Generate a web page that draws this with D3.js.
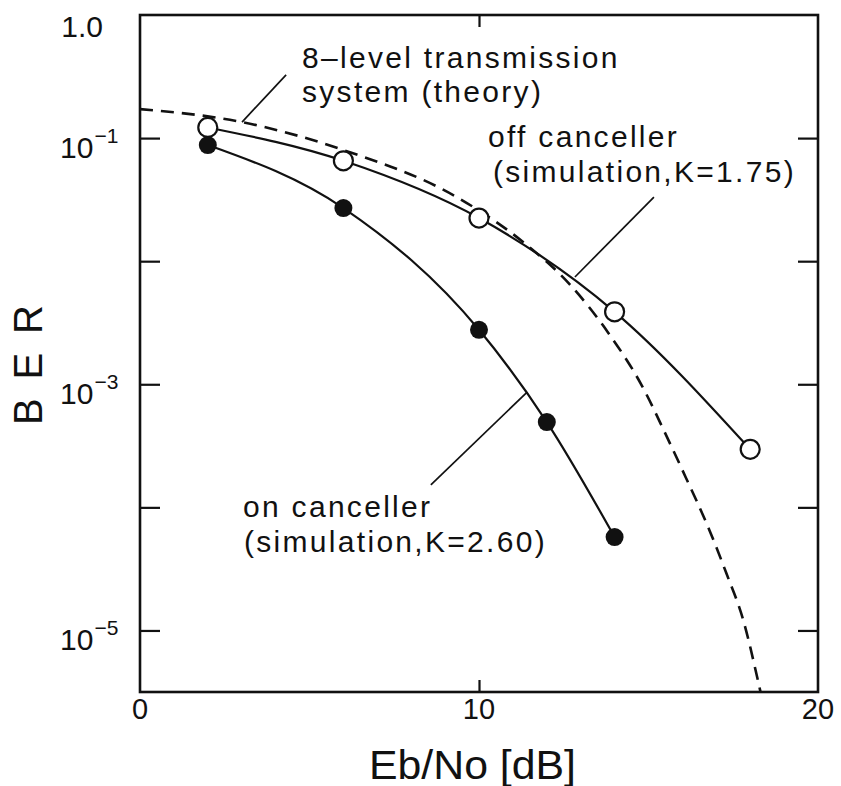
<!DOCTYPE html>
<html>
<head>
<meta charset="utf-8">
<script src="https://cdn.jsdelivr.net/npm/d3@7/dist/d3.min.js"></script>
<style>
  html, body { margin: 0; padding: 0; background: #fff; }
  svg { display: block; }
  text { font-family: "Liberation Sans", Arial, Helvetica, sans-serif; fill: #111; }
</style>
</head>
<body>
<svg id="chart" width="841" height="786"></svg>
<script>
// Eb/No [dB] and bit error rate for the two simulations and the theory curve
const ebnoOff = [2, 6, 10, 14, 18];
const berOff  = [0.122, 0.0654, 0.0224, 0.00388, 0.000296];

const ebnoOn = [2, 6, 10, 12, 14];
const berOn  = [0.0878, 0.0270, 0.00277, 0.000493, 0.0000574];

const ebnoTheory = [0, 3, 6, 9.4, 11.3, 12.7, 13.8, 14.8, 15.55, 16.1, 16.8, 17.3, 17.8, 18.23, 18.3];
const berTheory  = [0.172, 0.135, 0.080, 0.0325, 0.0143, 0.00638, 0.00265, 0.00098, 0.00037,
                    0.000175, 0.000065, 0.000029, 0.000012, 0.0000039, 0.0000032];

// axis ticks
const xTickLabels = [0, 10, 20];
const xInnerTicks = [10];
const yDecades = [-1, -3, -5];          // labelled as 10^n
const yTickValues = [1e-1, 1e-2, 1e-3, 1e-4, 1e-5];

const svg = d3.select("#chart");
const pL = 140, pR = 818, pT = 15, pB = 692;

const x = d3.scaleLinear().domain([0, 20]).range([pL, pR]);
const y = d3.scaleLog().domain([Math.pow(10, -5.5), 1]).range([pB, pT]);

svg.append("defs").append("clipPath").attr("id", "plot")
  .append("rect").attr("x", pL).attr("y", pT)
  .attr("width", pR - pL).attr("height", pB - pT);

// inward ticks on all four sides
const tickStyle = g => {
  g.select(".domain").remove();
  g.selectAll(".tick line").attr("stroke", "#111").attr("stroke-width", 2.2);
  g.selectAll(".tick text").remove();
};
svg.append("g").attr("transform", `translate(${pL},0)`)
  .call(d3.axisLeft(y).tickValues(yTickValues).tickSizeInner(-20).tickSizeOuter(0))
  .call(tickStyle);
svg.append("g").attr("transform", `translate(${pR},0)`)
  .call(d3.axisRight(y).tickValues(yTickValues).tickSizeInner(-20).tickSizeOuter(0))
  .call(tickStyle);
svg.append("g").attr("transform", `translate(0,${pB})`)
  .call(d3.axisBottom(x).tickValues(xInnerTicks).tickSizeInner(-12).tickSizeOuter(0))
  .call(tickStyle);
svg.append("g").attr("transform", `translate(0,${pT})`)
  .call(d3.axisTop(x).tickValues(xInnerTicks).tickSizeInner(-12).tickSizeOuter(0))
  .call(tickStyle);

// frame
svg.append("rect").attr("x", pL).attr("y", pT)
  .attr("width", pR - pL).attr("height", pB - pT)
  .attr("fill", "none").attr("stroke", "#111").attr("stroke-width", 2.6);

// y tick labels
svg.append("text").attr("x", 103).attr("y", y(1) + 22)
  .attr("text-anchor", "end").attr("font-size", 30).text("1.0");
yDecades.forEach(n => {
  const ty = y(Math.pow(10, n));
  const t = svg.append("text").attr("x", 60).attr("y", ty + 20).attr("font-size", 30);
  t.append("tspan").text("10");
  t.append("tspan").attr("dy", -15).attr("dx", 1).attr("font-size", 21).text("\u2212" + Math.abs(n));
});

// x tick labels
svg.selectAll(".xlab").data(xTickLabels).enter().append("text")
  .attr("x", d => x(d)).attr("y", 719)
  .attr("text-anchor", "middle").attr("font-size", 29)
  .text(d => d);

// axis titles
svg.append("text").attr("x", 369).attr("y", 779)
  .attr("font-size", 40).attr("textLength", 207).attr("lengthAdjust", "spacingAndGlyphs")
  .text("Eb/No [dB]");
svg.append("text").attr("transform", "translate(42,425) rotate(-90)")
  .attr("font-size", 40).attr("textLength", 120).attr("lengthAdjust", "spacing")
  .text("B E R");

// curves
const line = (xs, ys) => d3.line()
  .x((d, i) => x(xs[i])).y((d, i) => y(ys[i]))
  .curve(d3.curveMonotoneX)(xs);

const plot = svg.append("g").attr("clip-path", "url(#plot)");
plot.append("path").attr("d", line(ebnoTheory, berTheory))
  .attr("fill", "none").attr("stroke", "#111").attr("stroke-width", 2.6)
  .attr("stroke-dasharray", "13 8");
plot.append("path").attr("d", line(ebnoOff, berOff))
  .attr("fill", "none").attr("stroke", "#111").attr("stroke-width", 2.2);
plot.append("path").attr("d", line(ebnoOn, berOn))
  .attr("fill", "none").attr("stroke", "#111").attr("stroke-width", 2.2);

plot.selectAll(".off").data(ebnoOff).enter().append("circle")
  .attr("cx", d => x(d)).attr("cy", (d, i) => y(berOff[i])).attr("r", 9.5)
  .attr("fill", "#fff").attr("stroke", "#111").attr("stroke-width", 2.2);
plot.selectAll(".on").data(ebnoOn).enter().append("circle")
  .attr("cx", d => x(d)).attr("cy", (d, i) => y(berOn[i])).attr("r", 9)
  .attr("fill", "#111");

// leader lines, in data units (Eb/No, BER)
const leaders = [
  [[4.31, 0.326], [3.01, 0.135]],
  [[15.16, 0.0332], [12.83, 0.00744]],
  [[8.58, 1.52e-4], [11.42, 8.65e-4]]
];
svg.selectAll(".leader").data(leaders).enter().append("line")
  .attr("x1", d => x(d[0][0])).attr("y1", d => y(d[0][1]))
  .attr("x2", d => x(d[1][0])).attr("y2", d => y(d[1][1]))
  .attr("stroke", "#111").attr("stroke-width", 1.7);

// annotations
const notes = [
  { t: "8\u2013level transmission", x: 302, y: 68 },
  { t: "system (theory)",           x: 302, y: 102 },
  { t: "off canceller",             x: 488, y: 147 },
  { t: "(simulation,K=1.75)",       x: 493, y: 182 },
  { t: "on canceller",              x: 243, y: 517 },
  { t: "(simulation,K=2.60)",       x: 244, y: 552 }
];
svg.selectAll(".note").data(notes).enter().append("text")
  .attr("x", d => d.x).attr("y", d => d.y)
  .attr("font-size", 30).attr("letter-spacing", 2.3)
  .text(d => d.t);
</script>
</body>
</html>
